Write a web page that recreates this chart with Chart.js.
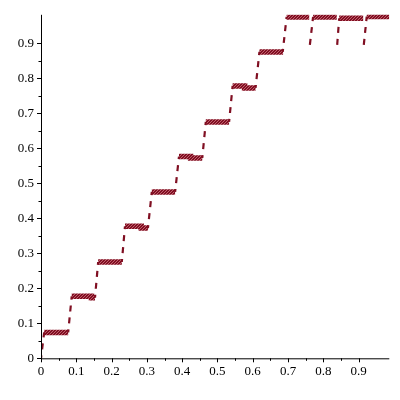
<!DOCTYPE html>
<html>
<head>
<meta charset="utf-8">
<script src="https://cdn.jsdelivr.net/npm/chart.js@4"></script>
<style>
  body { margin: 0; background: #fff; }
  #wrap { width: 400px; height: 400px; }
</style>
</head>
<body>
<div id="wrap"><canvas id="graphique"></canvas></div>
<script>
// flat parts of the staircase
const plateauStart = [0.009, 0.087, 0.162, 0.238, 0.314, 0.391, 0.467, 0.543, 0.619, 0.696, 0.771, 0.845, 0.923];
const plateauEnd = [0.077, 0.153, 0.229, 0.303, 0.380, 0.457, 0.533, 0.608, 0.686, 0.760, 0.838, 0.913, 0.987];
const plateauLevel = [0.074, 0.177, 0.275, 0.377, 0.475, 0.576, 0.675, 0.778, 0.875, 0.975, 0.975, 0.971, 0.976];
// small drop near the end of some plateaus
const dipStart = [null, 0.143, null, 0.284, null, 0.424, null, 0.577, null, null, null, null, null];
const dipLevel = [null, 0.173, null, 0.372, null, 0.572, null, 0.772, null, null, null, null, null];
// dashed rising parts between plateaus
const riseStartX = [0.000, 0.077, 0.153, 0.229, 0.303, 0.380, 0.457, 0.533, 0.608, 0.685];
const riseStartY = [0.000, 0.074, 0.173, 0.275, 0.372, 0.475, 0.572, 0.675, 0.772, 0.875];
const riseEndX = [0.009, 0.087, 0.162, 0.238, 0.314, 0.391, 0.467, 0.543, 0.619, 0.696];
const riseEndY = [0.074, 0.177, 0.275, 0.377, 0.475, 0.576, 0.675, 0.778, 0.875, 0.975];
// rises after a jump back down (top right)
const jumpStartX = [0.760, 0.838, 0.913];
const jumpStartY = [0.878, 0.878, 0.878];
const jumpEndX = [0.771, 0.845, 0.923];
const jumpEndY = [0.975, 0.971, 0.976];
// tick labels
const xTickLabels = ["0", "0.1", "0.2", "0.3", "0.4", "0.5", "0.6", "0.7", "0.8", "0.9"];
const yTickLabels = ["0", "0.1", "0.2", "0.3", "0.4", "0.5", "0.6", "0.7", "0.8", "0.9"];

const couleur = "#800f22";
const police = { family: "'Liberation Serif', 'Times New Roman', serif", size: 13 };

function motifHachure() {
    const c = document.createElement("canvas");
    c.width = 3;
    c.height = 3;
    const g = c.getContext("2d");
    g.fillStyle = couleur;
    g.fillRect(0, 0, 3, 3);
    g.fillStyle = "#c0606d";
    g.fillRect(2, 0, 1, 1);
    g.fillRect(1, 1, 1, 1);
    g.fillRect(0, 2, 1, 1);
    return g.createPattern(c, "repeat");
}

const plateauPoints = [];
for (let i = 0; i < plateauStart.length; i++) {
    plateauPoints.push({ x: plateauStart[i], y: plateauLevel[i] });
    if (dipStart[i] !== null) {
        plateauPoints.push({ x: dipStart[i], y: plateauLevel[i] });
        plateauPoints.push({ x: dipStart[i], y: dipLevel[i] });
        plateauPoints.push({ x: plateauEnd[i], y: dipLevel[i] });
    } else {
        plateauPoints.push({ x: plateauEnd[i], y: plateauLevel[i] });
    }
    plateauPoints.push({ x: plateauEnd[i], y: null });
}

function segments(x0, y0, x1, y1) {
    const pts = [];
    for (let i = 0; i < x0.length; i++) {
        pts.push({ x: x0[i], y: y0[i] });
        pts.push({ x: x1[i], y: y1[i] });
        pts.push({ x: x1[i], y: null });
    }
    return pts;
}

function estMultiple(v, pas) {
    return Math.abs(v / pas - Math.round(v / pas)) < 1e-6;
}

function garderTicks(scale) {
    scale.ticks = scale.ticks.filter(t => estMultiple(t.value, 0.05));
}

const traitsAxes = {
    id: "traitsAxes",
    afterDraw(chart) {
        const ctx = chart.ctx;
        const area = chart.chartArea;
        const sx = chart.scales.x;
        const sy = chart.scales.y;
        ctx.save();
        ctx.strokeStyle = "#000";
        ctx.lineWidth = 1;
        ctx.beginPath();
        ctx.moveTo(area.left + 0.5, area.top);
        ctx.lineTo(area.left + 0.5, area.bottom + 0.5);
        ctx.lineTo(area.right, area.bottom + 0.5);
        sx.ticks.forEach(t => {
            const px = Math.round(sx.getPixelForValue(t.value)) + 0.5;
            const len = estMultiple(t.value, 0.1) ? 4 : 2.5;
            ctx.moveTo(px, area.bottom);
            ctx.lineTo(px, area.bottom + len);
        });
        sy.ticks.forEach(t => {
            const py = Math.round(sy.getPixelForValue(t.value)) + 0.5;
            const len = estMultiple(t.value, 0.1) ? 4 : 2.5;
            ctx.moveTo(area.left - len, py);
            ctx.lineTo(area.left + 1, py);
        });
        ctx.stroke();
        ctx.restore();
    }
};

const ctx = document.getElementById("graphique");
new Chart(ctx, {
    type: "line",
    data: {
        datasets: [
            {
                label: "montee",
                data: segments(riseStartX, riseStartY, riseEndX, riseEndY),
                borderColor: couleur,
                borderWidth: 2.2,
                borderDash: [6, 6],
                borderDashOffset: 3,
                pointRadius: 0,
                spanGaps: false,
                tension: 0
            },
            {
                label: "reprise",
                data: segments(jumpStartX, jumpStartY, jumpEndX, jumpEndY),
                borderColor: couleur,
                borderWidth: 2.2,
                borderDash: [6, 6],
                borderDashOffset: 6,
                pointRadius: 0,
                spanGaps: false,
                tension: 0
            },
            {
                label: "palier",
                data: plateauPoints,
                borderColor: motifHachure(),
                borderWidth: 5.5,
                borderCapStyle: "butt",
                pointRadius: 0,
                spanGaps: false,
                tension: 0
            }
        ]
    },
    options: {
        responsive: true,
        maintainAspectRatio: false,
        animation: false,
        layout: { padding: { left: 0, top: 11, right: 10.7, bottom: 0 } },
        plugins: {
            legend: { display: false },
            tooltip: { enabled: false }
        },
        scales: {
            x: {
                type: "linear",
                min: 0,
                max: 0.987,
                grid: { display: false, drawTicks: false },
                border: { display: false },
                afterBuildTicks: garderTicks,
                afterFit: scale => { scale.height = 41.7; },
                ticks: {
                    stepSize: 0.05,
                    autoSkip: false,
                    maxRotation: 0,
                    padding: 5,
                    color: "#000",
                    font: police,
                    callback: v => estMultiple(v, 0.1) ? xTickLabels[Math.round(v * 10)] : ""
                }
            },
            y: {
                type: "linear",
                min: 0,
                max: 0.981,
                grid: { display: false, drawTicks: false },
                border: { display: false },
                afterBuildTicks: garderTicks,
                afterFit: scale => { scale.width = 41; },
                ticks: {
                    stepSize: 0.05,
                    autoSkip: false,
                    padding: 7,
                    color: "#000",
                    font: police,
                    callback: v => estMultiple(v, 0.1) ? yTickLabels[Math.round(v * 10)] : ""
                }
            }
        }
    },
    plugins: [traitsAxes]
});
</script>
</body>
</html>
